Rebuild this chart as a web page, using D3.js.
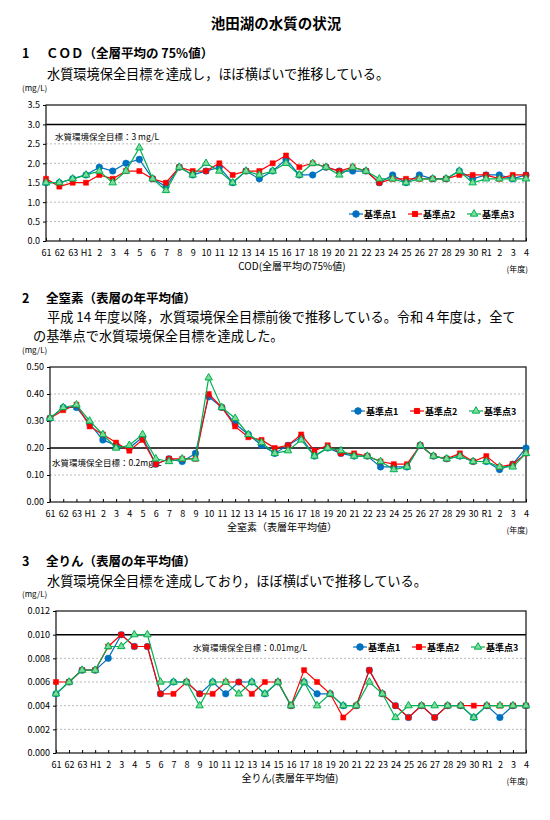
<!DOCTYPE html>
<html lang="ja">
<head>
<meta charset="utf-8">
<title>池田湖の水質の状況</title>
<script src="https://d3js.org/d3.v7.min.js"></script>
<style>
  body { margin: 0; background: #fff; }
  text { font-family: "Noto Sans CJK JP", "Noto Sans", sans-serif; }
</style>
</head>
<body>
<script>
// 年度 (x categories)
const years = ["61","62","63","H1","2","3","4","5","6","7","8","9","10","11","12","13","14","15","16","17","18","19","20","21","22","23","24","25","26","27","28","29","30","R1","2","3","4"];
const seriesNames = ["基準点1", "基準点2", "基準点3"];

// COD (全層平均の75%値)
const cod1 = [1.5,1.5,1.6,1.7,1.9,1.8,2.0,2.1,1.6,1.4,1.9,1.7,1.8,1.9,1.5,1.8,1.6,1.8,2.1,1.7,1.7,1.9,1.8,1.8,1.8,1.5,1.7,1.5,1.7,1.6,1.6,1.8,1.6,1.7,1.7,1.6,1.7];
const cod2 = [1.6,1.4,1.5,1.5,1.7,1.6,1.8,1.8,1.6,1.5,1.9,1.8,1.8,2.0,1.7,1.8,1.8,2.0,2.2,1.9,2.0,1.9,1.8,1.9,1.8,1.5,1.6,1.6,1.6,1.6,1.6,1.7,1.7,1.7,1.6,1.7,1.7];
const cod3 = [1.5,1.5,1.6,1.7,1.8,1.5,1.8,2.4,1.6,1.3,1.9,1.7,2.0,1.8,1.5,1.8,1.7,1.8,2.0,1.7,2.0,1.9,1.7,1.9,1.8,1.6,1.6,1.5,1.6,1.6,1.6,1.8,1.5,1.6,1.6,1.6,1.6];

// 全窒素 (表層年平均値)
const tn1 = [0.31,0.35,0.35,0.29,0.23,0.21,0.20,0.24,0.14,0.16,0.15,0.18,0.39,0.35,0.29,0.25,0.21,0.18,0.21,0.24,0.17,0.20,0.18,0.17,0.17,0.13,0.13,0.13,0.21,0.17,0.16,0.17,0.15,0.15,0.12,0.14,0.20];
const tn2 = [0.31,0.34,0.36,0.28,0.25,0.22,0.19,0.23,0.14,0.16,0.16,0.16,0.40,0.35,0.28,0.24,0.23,0.20,0.21,0.25,0.19,0.21,0.18,0.18,0.17,0.15,0.14,0.14,0.21,0.17,0.16,0.18,0.15,0.17,0.13,0.14,0.18];
const tn3 = [0.31,0.35,0.36,0.30,0.25,0.20,0.21,0.25,0.16,0.15,0.16,0.16,0.46,0.35,0.31,0.25,0.22,0.18,0.19,0.23,0.17,0.20,0.19,0.17,0.17,0.15,0.12,0.13,0.21,0.17,0.16,0.17,0.15,0.15,0.13,0.13,0.18];

// 全りん (表層年平均値)
const tp1 = [0.005,0.006,0.007,0.007,0.008,0.010,0.009,0.009,0.005,0.006,0.006,0.005,0.006,0.005,0.006,0.006,0.005,0.006,0.004,0.006,0.005,0.005,0.004,0.004,0.007,0.005,0.004,0.003,0.004,0.003,0.004,0.004,0.003,0.004,0.003,0.004,0.004];
const tp2 = [0.006,0.006,0.007,0.007,0.009,0.010,0.009,0.009,0.005,0.005,0.006,0.005,0.005,0.006,0.006,0.005,0.006,0.006,0.004,0.007,0.006,0.005,0.003,0.004,0.007,0.005,0.004,0.003,0.004,0.003,0.004,0.004,0.004,0.004,0.004,0.004,0.004];
const tp3 = [0.005,0.006,0.007,0.007,0.009,0.009,0.010,0.010,0.006,0.006,0.006,0.004,0.006,0.006,0.005,0.006,0.005,0.006,0.004,0.006,0.004,0.005,0.004,0.004,0.006,0.005,0.003,0.004,0.004,0.004,0.004,0.004,0.003,0.004,0.004,0.004,0.004];

const colors = ["#0070C0", "#FF0000", "#00B050"];

const svg = d3.select("body").append("svg")
  .attr("width", 550).attr("height", 820);

// page texts
svg.append("text").attr("x", 276).attr("y", 29).attr("text-anchor", "middle")
  .attr("font-size", 14.5).attr("font-weight", "bold").text("池田湖の水質の状況");

function heading(y, num, label) {
  svg.append("text").attr("x", 22).attr("y", y).attr("font-size", 12.5).attr("font-weight", "bold").text(num);
  svg.append("text").attr("x", 46).attr("y", y).attr("font-size", 12.5).attr("font-weight", "bold").text(label);
}
function para(x, y, s) {
  svg.append("text").attr("x", x).attr("y", y).attr("font-size", 13.2).text(s);
}

heading(58, "1", "ＣＯＤ（全層平均の 75%値）");
para(47, 79, "水質環境保全目標を達成し，ほぼ横ばいで推移している。");
heading(303, "2", "全窒素（表層の年平均値）");
para(47, 322, "平成 14 年度以降，水質環境保全目標前後で推移している。令和４年度は，全て");
para(33, 341, "の基準点で水質環境保全目標を達成した。");
heading(566, "3", "全りん（表層の年平均値）");
para(47, 586, "水質環境保全目標を達成しており，ほぼ横ばいで推移している。");

function drawChart(c) {
  const x = d3.scalePoint().domain(d3.range(years.length)).range([c.left, c.right]);
  const y = d3.scaleLinear().domain([0, c.max]).range([c.bottom, c.top]);
  const g = svg.append("g");

  // unit
  g.append("text").attr("x", c.unitX).attr("y", c.top - 14).attr("font-size", 8).text("(mg/L)");

  // grid
  g.selectAll(".grid").data(c.ticks.filter(t => t > 0 && t < c.max && t !== c.goal)).enter()
    .append("line")
    .attr("x1", c.left).attr("x2", c.right)
    .attr("y1", d => y(d)).attr("y2", d => y(d))
    .attr("stroke", "#bbb").attr("stroke-dasharray", "2,2");

  // goal line
  g.append("line").attr("x1", c.left).attr("x2", c.right)
    .attr("y1", y(c.goal)).attr("y2", y(c.goal))
    .attr("stroke", "#000").attr("stroke-width", 1.5);
  g.append("text").attr("x", c.goalX).attr("y", c.goalY).attr("font-size", 8.5)
    .text(c.goalText);

  // frame
  g.append("rect").attr("x", c.left).attr("y", c.top)
    .attr("width", c.right - c.left).attr("height", c.bottom - c.top)
    .attr("fill", "none").attr("stroke", "#222").attr("stroke-width", 1.3);

  // axes
  const yAxis = d3.axisLeft(y).tickValues(c.ticks).tickFormat(d3.format(c.fmt)).tickSize(3);
  const ya = g.append("g").attr("transform", `translate(${c.left},0)`).call(yAxis);
  ya.select(".domain").remove();
  ya.selectAll("text").attr("font-size", 9).attr("fill", "#000");

  const xAxis = d3.axisBottom(x).tickFormat(i => years[i]).tickSize(-3).tickPadding(9);
  const xa = g.append("g").attr("transform", `translate(0,${c.bottom})`).call(xAxis);
  xa.select(".domain").remove();
  xa.selectAll("text").attr("font-size", 9).attr("fill", "#000");

  g.append("text").attr("x", c.titleX).attr("y", c.bottom + 29).attr("text-anchor", "middle")
    .attr("font-size", 10).text(c.title);
  g.append("text").attr("x", 528).attr("y", c.bottom + 31).attr("text-anchor", "end")
    .attr("font-size", 8).text("(年度)");

  // series
  c.series.forEach((vals, si) => {
    const line = d3.line().x((d, i) => x(i)).y(d => y(d));
    g.append("path").datum(vals).attr("d", line)
      .attr("fill", "none").attr("stroke", colors[si]).attr("stroke-width", 1.2);
    g.selectAll(".m" + si).data(vals).enter().append("path")
      .attr("transform", (d, i) => `translate(${x(i)},${y(d)})`)
      .attr("d", marker(si))
      .attr("fill", si === 2 ? "#7ddc9a" : colors[si])
      .attr("stroke", colors[si]).attr("stroke-width", si === 2 ? 1 : 0.5);
  });

  // legend
  seriesNames.forEach((name, si) => {
    const lx = c.legendX + si * 59;
    g.append("line").attr("x1", lx).attr("x2", lx + 14)
      .attr("y1", c.legendY).attr("y2", c.legendY)
      .attr("stroke", colors[si]).attr("stroke-width", 1.2);
    g.append("path").attr("transform", `translate(${lx + 7},${c.legendY})`)
      .attr("d", marker(si))
      .attr("fill", si === 2 ? "#7ddc9a" : colors[si]).attr("stroke", colors[si]);
    g.append("text").attr("x", lx + 15).attr("y", c.legendY + 3.5)
      .attr("font-size", 9).attr("font-weight", "bold").text(name);
  });
}

function marker(si) {
  const types = [d3.symbolCircle, d3.symbolSquare, d3.symbolTriangle];
  const sizes = [34, 26, 24];
  return d3.symbol().type(types[si]).size(sizes[si])();
}

drawChart({
  left: 46, right: 526, top: 105, bottom: 241, max: 3.5,
  ticks: d3.range(0, 3.51, 0.5), fmt: ".1f", goal: 3.0,
  goalText: "水質環境保全目標：3 mg/L", goalX: 55, goalY: 140,
  unitX: 22, title: "COD(全層平均の75%値)", titleX: 292,
  legendX: 349, legendY: 214, series: [cod1, cod2, cod3]
});

drawChart({
  left: 50, right: 526, top: 367, bottom: 502, max: 0.5,
  ticks: d3.range(0, 0.501, 0.1), fmt: ".2f", goal: 0.2,
  goalText: "水質環境保全目標：0.2mg/L", goalX: 52, goalY: 466,
  unitX: 22, title: "全窒素（表層年平均値）", titleX: 282,
  legendX: 351, legendY: 411, series: [tn1, tn2, tn3]
});

drawChart({
  left: 56, right: 526, top: 611, bottom: 753, max: 0.012,
  ticks: d3.range(0, 0.01201, 0.002), fmt: ".3f", goal: 0.010,
  goalText: "水質環境保全目標：0.01mg/L", goalX: 193, goalY: 651,
  unitX: 22, title: "全りん(表層年平均値)", titleX: 290,
  legendX: 353, legendY: 647, series: [tp1, tp2, tp3]
});
</script>
</body>
</html>
